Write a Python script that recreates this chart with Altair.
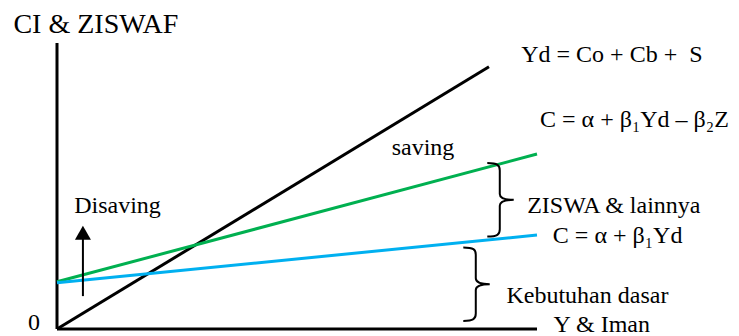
import altair as alt
import pandas as pd

# ---- data (x: income 0..100, y: consumption 0..60) ----
series = ["Yd", "Yd", "C_zis", "C_zis", "C_basic", "C_basic"]
line_x = [0, 90, 0, 100, 0, 100]
line_y = [0, 55, 9.9, 36.7, 9.7, 19.7]
line_colors = {"Yd": "#000000", "C_zis": "#00b050", "C_basic": "#00b0f0"}

label_text = ["CI & ZISWAF", "0", "Yd = Co + Cb +\u00a0 S", "C = α + β₁Yd – β₂Z", "saving",
              "ZISWA & lainnya", "C = α + β₁Yd", "Kebutuhan dasar", "Y & Iman", "Disaving"]
label_x = [8.1, -4.8, 115.6, 120.3, 76.25, 116.0, 116.8, 110.5, 113.5, 12.6]
label_y = [62.1, -0.2, 56.0, 42.4, 36.5, 24.3, 18.0, 5.5, -0.6, 24.3]
label_size = [28, 24, 24, 24, 24, 24, 24, 24, 24, 24]

arrow_x = [5.4]
arrow_y0 = [6.9]
arrow_y1 = [19.5]
arrow_tip_y = [20.2]

brace_x = [92.4, 87.4]
brace_y = [27.1, 9.4]

X_DOM = [0, 100]
Y_DOM = [0, 60]

xs = alt.Scale(domain=X_DOM, nice=False, zero=False)
ys = alt.Scale(domain=Y_DOM, nice=False, zero=False)

lines_df = pd.DataFrame({"s": series, "x": line_x, "y": line_y})
labels_df = pd.DataFrame({"t": label_text, "x": label_x, "y": label_y, "fs": label_size})
arrow_df = pd.DataFrame({"x": arrow_x, "y0": arrow_y0, "y1": arrow_y1, "tip": arrow_tip_y})
brace_df = pd.DataFrame({"x": brace_x, "y": brace_y})
axes_df = pd.DataFrame({"x0": [X_DOM[0], X_DOM[0]], "x1": [X_DOM[0], X_DOM[1]],
                        "y0": [Y_DOM[0], Y_DOM[0]], "y1": [Y_DOM[1], Y_DOM[0]]})

FONT = "Liberation Serif"

axes = alt.Chart(axes_df).mark_rule(color="black", strokeWidth=3).encode(
    x=alt.X("x0:Q", scale=xs, axis=None), x2="x1:Q",
    y=alt.Y("y0:Q", scale=ys, axis=None), y2="y1:Q")

lines = alt.Chart(lines_df).mark_line(strokeWidth=3, clip=False).encode(
    x=alt.X("x:Q", scale=xs, axis=None),
    y=alt.Y("y:Q", scale=ys, axis=None),
    color=alt.Color("s:N", scale=alt.Scale(domain=list(line_colors.keys()),
                                            range=list(line_colors.values())), legend=None),
    detail="s:N")

labels = alt.Chart(labels_df).mark_text(font=FONT, align="center", baseline="alphabetic",
                                        color="black").encode(
    x=alt.X("x:Q", scale=xs, axis=None),
    y=alt.Y("y:Q", scale=ys, axis=None),
    text="t:N",
    size=alt.Size("fs:Q", scale=None, legend=None))

shaft = alt.Chart(arrow_df).mark_rule(color="black", strokeWidth=2).encode(
    x=alt.X("x:Q", scale=xs, axis=None),
    y=alt.Y("y0:Q", scale=ys, axis=None), y2="y1:Q")

tip = alt.Chart(arrow_df).mark_point(shape="triangle-up", size=256, filled=True,
                                     color="black", opacity=1).encode(
    x=alt.X("x:Q", scale=xs, axis=None),
    y=alt.Y("tip:Q", scale=ys, axis=None))

BRACE = ("M -0.36 -1 C -0.08 -1 -0.02 -0.94 -0.02 -0.8 L -0.02 -0.16 C -0.02 -0.04 0.1 0 0.36 0 "
         "C 0.1 0 -0.02 0.04 -0.02 0.16 L -0.02 0.8 C -0.02 0.94 -0.08 1 -0.36 1")

braces = alt.Chart(brace_df).mark_point(shape=BRACE, size=5400, filled=False,
                                        color="black", strokeWidth=2, opacity=1).encode(
    x=alt.X("x:Q", scale=xs, axis=None),
    y=alt.Y("y:Q", scale=ys, axis=None))

chart = alt.layer(axes, lines, shaft, tip, braces, labels).properties(
    width=480, height=286,
    autosize=alt.AutoSizeParams(type="none"),
    padding={"left": 49, "top": 35, "right": 194, "bottom": 7},
).configure_view(stroke=None)

chart.save("out.html", embed_options={"renderer": "svg", "actions": False})
